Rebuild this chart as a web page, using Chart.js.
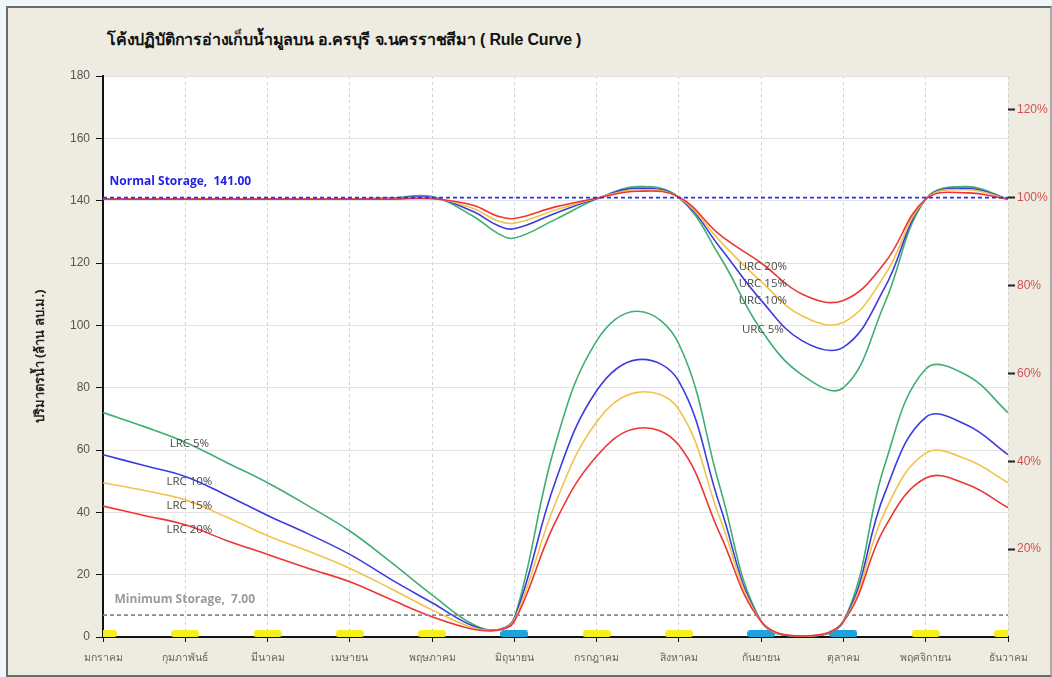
<!DOCTYPE html>
<html lang="th">
<head>
    <meta charset="UTF-8">
    <title>Rule Curve อ่างเก็บน้ำมูลบน</title>
    <script src="https://cdn.jsdelivr.net/npm/chart.js"></script>
    <style>
        body {
            margin: 0;
            background-color: #eef7fb;
            font-family: "Liberation Sans", Arial, sans-serif;
        }

        #frame {
            position: absolute;
            left: 6px;
            top: 6px;
            width: 1042px;
            height: 667px;
            background-color: #eeebe0;
            border: 2px solid #6b6b6b;
            border-right-color: #aaa;
        }

        #title {
            position: absolute;
            left: 107px;
            top: 27px;
            font-size: 16px;
            font-weight: bold;
            letter-spacing: -0.2px;
            color: #111;
        }

        #chartBox {
            position: absolute;
            left: 0;
            top: 0;
        }
    </style>
</head>
<body>
    <div id="frame"></div>
    <div id="title">โค้งปฏิบัติการอ่างเก็บน้ำมูลบน อ.ครบุรี จ.นครราชสีมา ( Rule Curve )</div>
    <canvas id="chartBox" width="1052" height="677"></canvas>

    <script>
        // month labels on the x axis (index 0 = มกราคม)
        const months = ['มกราคม', 'กุมภาพันธ์', 'มีนาคม', 'เมษายน', 'พฤษภาคม', 'มิถุนายน',
            'กรกฎาคม', 'สิงหาคม', 'กันยายน', 'ตุลาคม', 'พฤศจิกายน', 'ธันวาคม'];

        // positions along the year (month index) where the curves were read
        const xs = [0, 0.5, 1, 1.5, 2, 2.5, 3, 3.5, 4, 4.5, 4.8, 5, 5.5, 6, 6.5, 7, 7.5, 8, 8.5, 9, 9.5, 10, 10.5, 11];

        // upper rule curves (ล้าน ลบ.ม.)
        const urc5  = [140.5, 140.5, 140.5, 140.5, 140.5, 140.5, 140.5, 140.8, 141.3, 135, 129.5, 128, 134, 140.5, 144.5, 141, 122, 98.5, 84, 80, 107, 140.5, 144.5, 140.5];
        const urc10 = [140.5, 140.5, 140.5, 140.5, 140.5, 140.5, 140.5, 140.7, 141, 136.5, 132, 131, 136, 140.7, 144, 141, 125, 108, 95, 93, 112, 140.5, 144, 140.5];
        const urc15 = [140.5, 140.5, 140.5, 140.5, 140.5, 140.5, 140.5, 140.6, 140.8, 137.5, 133.5, 132.8, 137, 140.8, 143.5, 141, 127, 114, 103, 101, 116, 140.5, 143.5, 140.5];
        const urc20 = [140.5, 140.5, 140.5, 140.5, 140.5, 140.5, 140.5, 140.5, 140.6, 138.5, 135, 134.3, 138, 140.8, 143, 141.2, 129, 120, 110, 108, 120, 140.5, 142.5, 140.5];

        // lower rule curves (ล้าน ลบ.ม.)
        const lrc5  = [72, 67.5, 62.5, 56, 49.5, 42, 34, 24, 13.5, 4, 2.3, 6, 62, 95, 104.5, 94, 48, 5, 0.3, 5, 55, 86, 84, 72];
        const lrc10 = [58.5, 55, 51.5, 45.5, 39, 33, 26.5, 18.5, 11, 3.5, 2.3, 6, 50, 79, 89, 82, 42, 5, 0.3, 5, 46, 70.5, 68, 58.5];
        const lrc15 = [49.5, 47, 44, 38.5, 32.5, 27.5, 22, 15.5, 8.7, 3, 2.3, 5.5, 43, 69, 78.5, 73, 38, 5, 0.3, 5, 40, 59, 57, 49.5];
        const lrc20 = [42, 39, 36, 31, 26.5, 22, 17.7, 12, 6.5, 2.5, 2.2, 5, 37, 58, 67, 61.5, 33, 5, 0.3, 5, 35, 51, 49, 41.5];

        // reference storage levels
        const normalStorage = 141.00;
        const minimumStorage = 7.00;

        // season markers along the bottom (month index)
        const dryMonths = [0, 1, 2, 3, 4, 6, 7, 10, 11];
        const wetMonths = [5, 8, 9];

        // y axis ticks
        const leftTicks = [0, 20, 40, 60, 80, 100, 120, 140, 160, 180];
        const rightTicks = [20, 40, 60, 80, 100, 120];

        // text labels next to the curves
        const curveLabels = [
            { text: 'URC 20%', x: 8.02, y: 118.7 },
            { text: 'URC 15%', x: 8.02, y: 113.2 },
            { text: 'URC 10%', x: 8.02, y: 107.8 },
            { text: 'URC 5%', x: 8.02, y: 98.5 },
            { text: 'LRC 5%', x: 1.05, y: 61.9 },
            { text: 'LRC 10%', x: 1.05, y: 49.7 },
            { text: 'LRC 15%', x: 1.05, y: 42 },
            { text: 'LRC 20%', x: 1.05, y: 34.3 }
        ];

        const pts = arr => arr.map((v, i) => ({ x: xs[i], y: v }));

        function markerImage(color) {
            const c = document.createElement('canvas');
            c.width = 28;
            c.height = 7;
            const g = c.getContext('2d');
            g.fillStyle = color;
            g.beginPath();
            g.roundRect(0, 0, 28, 7, 3);
            g.fill();
            return c;
        }

        function curve(label, data, color) {
            return {
                label: label,
                data: pts(data),
                borderColor: color,
                borderWidth: 1.6,
                pointRadius: 0,
                tension: 0.4,
                fill: false,
                clip: 0
            };
        }

        function flat(label, value, color, dash) {
            return {
                label: label,
                data: [{ x: 0, y: value }, { x: 11, y: value }],
                borderColor: color,
                borderWidth: 1.7,
                borderDash: dash,
                pointRadius: 0,
                fill: false
            };
        }

        const textPlugin = {
            id: 'textPlugin',
            beforeDraw(chart) {
                const { ctx, chartArea } = chart;
                ctx.save();
                ctx.fillStyle = '#ffffff';
                ctx.fillRect(chartArea.left, chartArea.top, chartArea.right - chartArea.left, chartArea.bottom - chartArea.top);
                ctx.restore();
            },
            afterDatasetsDraw(chart) {
                const { ctx } = chart;
                const xS = chart.scales.x, yS = chart.scales.y;
                ctx.save();
                ctx.textBaseline = 'middle';
                ctx.textAlign = 'left';
                ctx.font = 'bold 12px "Open Sans", sans-serif';
                ctx.fillStyle = '#1f1fe6';
                ctx.fillText('Normal Storage,  ' + normalStorage.toFixed(2), xS.getPixelForValue(0.08), yS.getPixelForValue(146));
                ctx.fillStyle = '#9a9a9a';
                ctx.fillText('Minimum Storage,  ' + minimumStorage.toFixed(2), xS.getPixelForValue(0.14), yS.getPixelForValue(11.9));
                ctx.font = '11.5px "Open Sans", sans-serif';
                ctx.fillStyle = '#4a4a4a';
                ctx.textAlign = 'center';
                curveLabels.forEach(l => {
                    ctx.fillText(l.text, xS.getPixelForValue(l.x), yS.getPixelForValue(l.y));
                });
                ctx.restore();
            }
        };

        new Chart(document.getElementById('chartBox'), {
            type: 'line',
            data: {
                datasets: [
                    flat('Normal Storage', normalStorage, '#2b2bff', [4, 3]),
                    flat('Minimum Storage', minimumStorage, '#8a8a8a', [4, 3]),
                    curve('URC 20%', urc20, '#ee3535'),
                    curve('URC 15%', urc15, '#f0c44a'),
                    curve('URC 10%', urc10, '#3b3be0'),
                    curve('URC 5%', urc5, '#3fae72'),
                    curve('LRC 20%', lrc20, '#ee3535'),
                    curve('LRC 15%', lrc15, '#f0c44a'),
                    curve('LRC 10%', lrc10, '#3b3be0'),
                    curve('LRC 5%', lrc5, '#3fae72'),
                    {
                        label: 'dry',
                        data: dryMonths.map(m => ({ x: m, y: 1 })),
                        showLine: false,
                        pointStyle: markerImage('#f4f01a'),
                        pointRadius: 14,
                        clip: 0
                    },
                    {
                        label: 'wet',
                        data: wetMonths.map(m => ({ x: m, y: 1 })),
                        showLine: false,
                        pointStyle: markerImage('#1ea2dc'),
                        pointRadius: 14,
                        clip: 0
                    }
                ]
            },
            options: {
                responsive: false,
                animation: false,
                events: [],
                layout: { padding: { top: 76, left: 0, right: 0, bottom: 0 } },
                plugins: {
                    legend: { display: false },
                    tooltip: { enabled: false }
                },
                scales: {
                    x: {
                        type: 'linear',
                        min: 0,
                        max: 11,
                        afterBuildTicks: s => { s.ticks = months.map((m, i) => ({ value: i })); },
                        afterFit: s => { s.height = 40; },
                        ticks: {
                            callback: v => months[v],
                            color: '#666',
                            font: { size: 10.5, family: '"Noto Sans", sans-serif' },
                            maxRotation: 0,
                            autoSkip: false,
                            padding: 10
                        },
                        grid: { color: '#d2d2d2', tickColor: '#111', tickLength: 5, tickBorderDash: [] },
                        border: { color: '#111', width: 2, dash: [3, 3] }
                    },
                    y: {
                        position: 'left',
                        min: 0,
                        max: 180,
                        afterBuildTicks: s => { s.ticks = leftTicks.map(v => ({ value: v })); },
                        afterFit: s => { s.width = 103; },
                        ticks: {
                            color: '#555',
                            font: { size: 12, family: '"Liberation Sans", Arial, sans-serif' },
                            padding: 6
                        },
                        title: {
                            display: true,
                            text: 'ปริมาตรน้ำ (ล้าน ลบ.ม.)',
                            color: '#222',
                            font: { size: 13, weight: 'bold', family: '"Noto Sans", sans-serif' },
                            padding: { top: 32, bottom: 0 }
                        },
                        grid: { color: '#e2e2e2', tickColor: '#111', tickLength: 7 },
                        border: { color: '#111', width: 2 }
                    },
                    y2: {
                        position: 'right',
                        min: 0,
                        max: 180 / normalStorage * 100,
                        afterBuildTicks: s => { s.ticks = rightTicks.map(v => ({ value: v })); },
                        afterFit: s => { s.width = 44; },
                        ticks: {
                            callback: v => v + '%',
                            color: '#d25050',
                            font: { size: 12, family: '"Liberation Sans", Arial, sans-serif' },
                            padding: 2
                        },
                        grid: { drawOnChartArea: false, tickColor: '#222', tickLength: 7, tickWidth: 2 },
                        border: { display: false }
                    }
                }
            },
            plugins: [textPlugin]
        });
    </script>
</body>
</html>
